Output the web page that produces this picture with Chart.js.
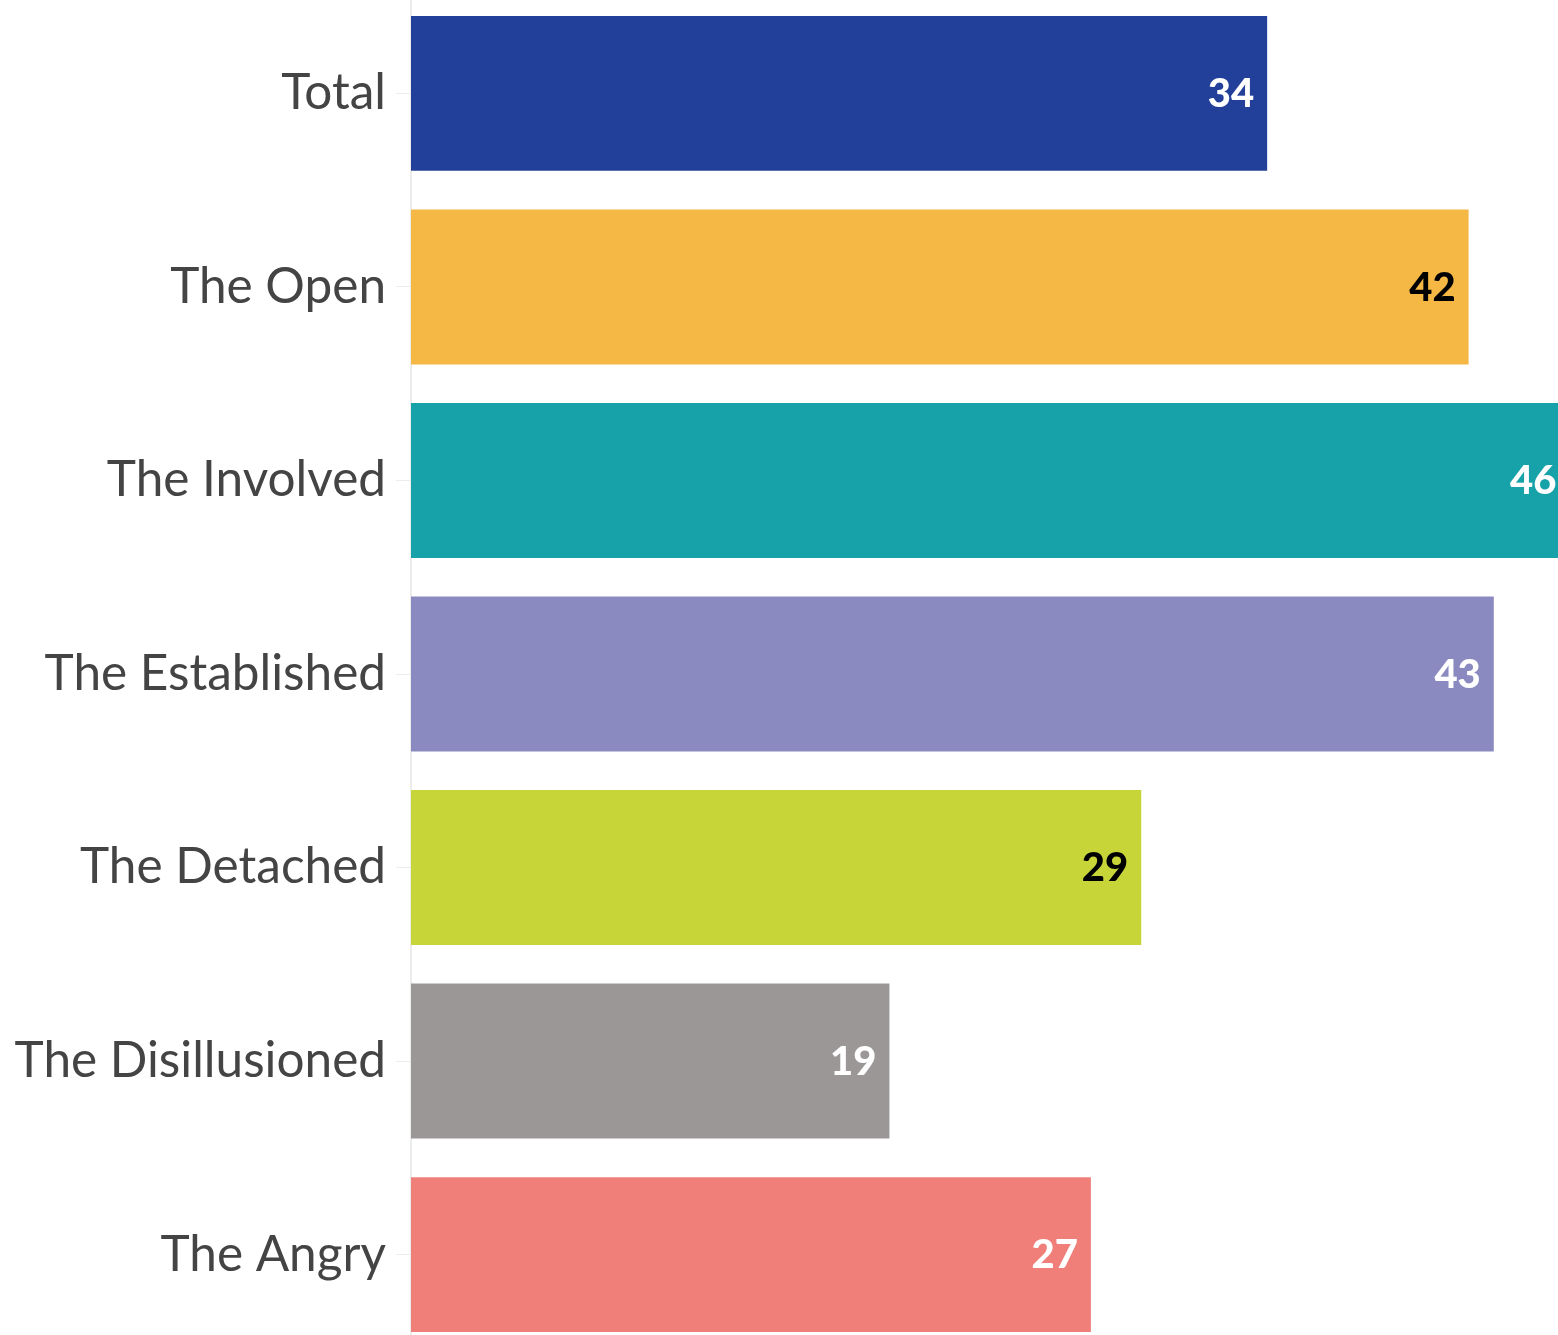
<!DOCTYPE html>
<html>
<head>
<meta charset="utf-8">
<script src="https://cdn.jsdelivr.net/npm/chart.js@4"></script>
<style>
  html, body { margin: 0; padding: 0; background: #fff; overflow: hidden; }
  #wrap { position: absolute; left: 0; top: -43px; width: 1558px; height: 1434px; }
</style>
</head>
<body>
<div id="wrap"><canvas id="segmentChart" width="1558" height="1434"></canvas></div>
<script>
// Share per segment, top to bottom
const segments = ["Total", "The Open", "The Involved", "The Established", "The Detached", "The Disillusioned", "The Angry"];
const shares = [34, 42, 46, 43, 29, 19, 27];
const barColors = ["#22409a", "#f6b844", "#16a2a8", "#8a8ac1", "#c8d538", "#9a9796", "#ef7f78"];
const labelColors = ["#fff", "#000", "#fff", "#fff", "#000", "#fff", "#fff"];

// Write each value inside the end of its bar
const valueLabels = {
    id: "valueLabels",
    afterDatasetsDraw(chart) {
        const ctx = chart.ctx;
        const meta = chart.getDatasetMeta(0);
        ctx.save();
        ctx.font = "900 40px Lato, 'DejaVu Sans', sans-serif";
        ctx.textAlign = "right";
        ctx.textBaseline = "middle";
        meta.data.forEach((bar, i) => {
            ctx.fillStyle = labelColors[i];
            ctx.fillText(String(shares[i]), bar.x - 13, bar.y + 1);
        });
        ctx.restore();
    }
};

const chart = new Chart(document.getElementById("segmentChart"), {
    type: "bar",
    data: {
        labels: segments,
        datasets: [{
            data: shares,
            backgroundColor: barColors,
            borderWidth: 0,
            categoryPercentage: 1,
            barPercentage: 0.8
        }]
    },
    options: {
        indexAxis: "y",
        responsive: false,
        animation: false,
        layout: { padding: 0 },
        plugins: {
            legend: { display: false },
            tooltip: { enabled: false }
        },
        scales: {
            x: {
                display: false,
                min: 0,
                max: 45.55
            },
            y: {
                afterFit(scale) { scale.width = 411; },
                border: { color: "#ececec", width: 2 },
                grid: {
                    offset: false,
                    drawOnChartArea: false,
                    drawTicks: true,
                    tickLength: 15,
                    color: "#ececec",
                    lineWidth: 1
                },
                ticks: {
                    padding: 10,
                    color: "#444",
                    font: { family: "Lato, 'Noto Sans', sans-serif", size: 49.5 }
                }
            }
        }
    },
    plugins: [valueLabels]
});
</script>
</body>
</html>
